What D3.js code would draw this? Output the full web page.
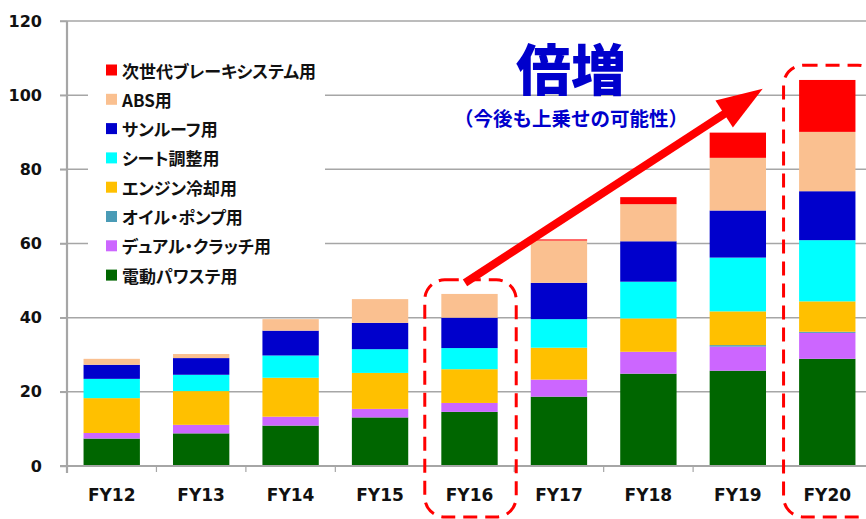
<!DOCTYPE html>
<html><head><meta charset="utf-8">
<script src="https://cdn.jsdelivr.net/npm/d3@7"></script>
<style>html,body{margin:0;padding:0;background:#fff;overflow:hidden}
.lgtext{font-feature-settings:"palt" 1;}</style>
</head><body>
<svg id="chart" width="866" height="519"></svg>
<script>
const categories = ["FY12","FY13","FY14","FY15","FY16","FY17","FY18","FY19","FY20"];
const seriesNames = ["電動パワステ用","デュアル・クラッチ用","オイル・ポンプ用","エンジン冷却用","シート調整用","サンルーフ用","ABS用","次世代ブレーキシステム用"];
const seriesColors = ["#006600","#cc66ff","#4a9bb6","#ffc000","#00ffff","#0000cc","#fac090","#ff0000"];
const epsValues     = [7.4, 8.8, 10.9, 13.1, 14.6, 18.7, 24.9, 25.7, 28.9];
const dualValues    = [1.5, 2.3, 2.4, 2.3, 2.4, 4.6, 5.9, 6.5, 7.0];
const oilValues     = [0, 0, 0, 0, 0, 0, 0, 0.4, 0.3];
const engineValues  = [9.4, 9.1, 10.5, 9.7, 9.1, 8.6, 9.0, 9.1, 8.2];
const seatValues    = [5.2, 4.4, 6.0, 6.4, 5.7, 7.7, 9.9, 14.5, 16.5];
const sunroofValues = [3.8, 4.5, 6.7, 7.1, 8.2, 9.8, 10.9, 12.7, 13.2];
const absValues     = [1.6, 1.1, 3.1, 6.4, 6.4, 11.4, 10.0, 14.2, 16.0];
const nextGenValues = [0, 0, 0, 0, 0, 0.3, 1.9, 6.8, 14.0];
const yTicks = [0, 20, 40, 60, 80, 100, 120];
const titleText = "倍増";
const subtitleText = "（今後も上乗せの可能性）";

const allSeries = [epsValues, dualValues, oilValues, engineValues, seatValues, sunroofValues, absValues, nextGenValues];
const rows = categories.map((c, i) => {
  const r = {cat: c};
  seriesNames.forEach((s, j) => r[s] = allSeries[j][i]);
  return r;
});
const stacked = d3.stack().keys(seriesNames)(rows);

const svg = d3.select("#chart");
const x = d3.scaleBand().domain(categories).range([67, 872]).paddingInner(0.37).paddingOuter(0.185);
const xb = d3.scaleBand().domain(categories).range([67, 872]);
const y = d3.scaleLinear().domain([0, 120]).range([466, 21]);
const grid = "#a6a6a6";

// gridlines
svg.append("g").selectAll("line").data(yTicks.filter(t => t > 0)).join("line")
  .attr("x1", 60).attr("x2", 866).attr("y1", d => y(d)).attr("y2", d => y(d))
  .attr("stroke", grid).attr("stroke-width", 1.5);

// bars
svg.append("g").selectAll("g").data(stacked).join("g")
  .attr("fill", (d, i) => seriesColors[i])
  .selectAll("rect").data(d => d).join("rect")
  .attr("x", d => x(d.data.cat)).attr("width", x.bandwidth())
  .attr("y", d => y(d[1])).attr("height", d => Math.max(0, y(d[0]) - y(d[1])));

// y axis
const yAxis = svg.append("g").attr("transform", "translate(67,0)")
  .call(d3.axisLeft(y).tickValues(yTicks).tickSize(7).tickPadding(18));
yAxis.select(".domain").attr("stroke", grid).attr("stroke-width", 2.2).attr("d", "M0,21V473");
yAxis.selectAll(".tick line").attr("stroke", grid).attr("stroke-width", 1.5);
yAxis.selectAll("text").attr("font-family", "'DejaVu Sans', Verdana, sans-serif")
  .attr("font-weight", "bold").attr("font-size", 16).attr("fill", "#111");

// x axis
const xAxisG = svg.append("g").attr("transform", "translate(0,466)");
xAxisG.append("line").attr("x1", 60).attr("x2", 866).attr("stroke", grid).attr("stroke-width", 2.2);
xAxisG.selectAll(".xt").data(categories.slice(1)).join("line").attr("class", "xt")
  .attr("x1", d => xb(d)).attr("x2", d => xb(d)).attr("y1", 0).attr("y2", 6)
  .attr("stroke", grid).attr("stroke-width", 1.2);
xAxisG.selectAll("text").data(categories).join("text")
  .attr("x", d => xb(d) + xb.bandwidth() / 2).attr("y", 35)
  .attr("text-anchor", "middle")
  .attr("font-family", "'DejaVu Sans', Verdana, sans-serif").attr("font-weight", "bold")
  .attr("font-size", 17).attr("fill", "#111").text(d => d);

// legend
const lg = svg.append("g");
lg.append("rect").attr("x", 88).attr("y", 50).attr("width", 237).attr("height", 243).attr("fill", "#fff");
const legendOrder = seriesNames.slice().reverse();
const legendColors = seriesColors.slice().reverse();
legendOrder.forEach((name, i) => {
  const cy = 70 + i * 29.3;
  lg.append("rect").attr("x", 106).attr("y", cy - 5.5).attr("width", 11).attr("height", 11).attr("fill", legendColors[i]);
  lg.append("text").attr("class", "lgtext").attr("x", 122).attr("y", cy).attr("dominant-baseline", "central")
    .attr("font-family", "'Noto Sans CJK JP', sans-serif").attr("font-weight", "bold")
    .attr("font-size", 17).attr("fill", "#111").text(name);
});

// title
svg.append("text").attr("x", 571).attr("y", 66).attr("text-anchor", "middle").attr("dominant-baseline", "central")
  .attr("font-family", "'Noto Sans CJK JP', sans-serif").attr("font-weight", "900")
  .attr("font-size", 55).attr("fill", "#0000cc").text(titleText);
svg.append("text").attr("x", 571).attr("y", 117).attr("text-anchor", "middle").attr("dominant-baseline", "central")
  .attr("font-family", "'Noto Sans CJK JP', sans-serif").attr("font-weight", "bold")
  .attr("font-size", 19.5).attr("fill", "#0000cc").text(subtitleText);

// dashed rounded boxes
const dash = {stroke: "#ff0000", "stroke-width": 3, "stroke-dasharray": "14,8", fill: "none"};
function box(x0, y0, x1, y1) {
  const r = svg.append("rect").attr("x", x0).attr("y", y0).attr("width", x1 - x0).attr("height", y1 - y0)
    .attr("rx", 20).attr("ry", 20);
  Object.entries(dash).forEach(([k, v]) => r.attr(k, v));
}
box(xb("FY16"), y(50.2), xb("FY16") + xb.bandwidth() + 2, 517);
box(xb("FY20") + 1, y(108.1), xb("FY20") + xb.bandwidth() + 6, 517);

// arrow
const ax0 = 465, ay0 = y(49.4), ax1 = 762.7, ay1 = y(101.7);
const ang = Math.atan2(ay1 - ay0, ax1 - ax0);
const headLen = 46, headHalf = 16;
const bx = ax1 - headLen * Math.cos(ang), by = ay1 - headLen * Math.sin(ang);
svg.append("line").attr("x1", ax0).attr("y1", ay0).attr("x2", bx + 4 * Math.cos(ang)).attr("y2", by + 4 * Math.sin(ang))
  .attr("stroke", "#ff0000").attr("stroke-width", 8);
const px = -Math.sin(ang), py = Math.cos(ang);
svg.append("polygon").attr("fill", "#ff0000")
  .attr("points", [[ax1, ay1], [bx + headHalf * px, by + headHalf * py], [bx - headHalf * px, by - headHalf * py]].map(p => p.join(",")).join(" "));
</script>
</body></html>
